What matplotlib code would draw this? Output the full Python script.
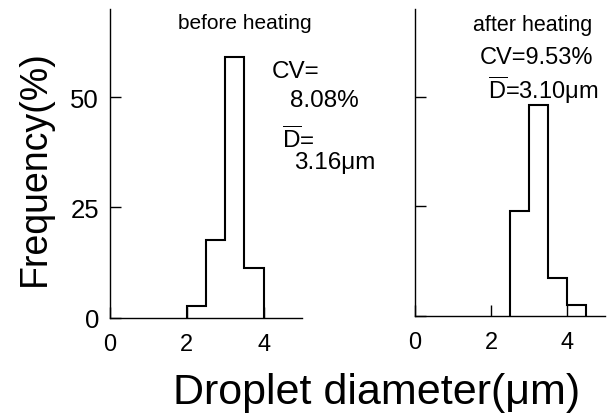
import matplotlib
matplotlib.use('Agg')
import matplotlib.pyplot as plt

plt.rcParams['font.family'] = ['Liberation Sans', 'DejaVu Sans']
plt.rcParams['mathtext.fontset'] = 'custom'
plt.rcParams['mathtext.rm'] = 'Liberation Sans'

# 直方图数据（粒径区间边界和频率%）
edges_before = [2.0, 2.5, 3.0, 3.5, 4.0]
freq_before = [2.7, 17.6, 59.0, 11.3]
edges_after = [2.5, 3.0, 3.5, 4.0, 4.5]
freq_after = [24.0, 48.0, 8.8, 2.5]

x_ticks = [0, 2, 4]
y_ticks = [0, 25, 50]

fig = plt.figure(figsize=(6.15, 4.14), dpi=100)
ax1 = fig.add_axes([0.179, 0.23, 0.312, 0.746])
ax2 = fig.add_axes([0.675, 0.234, 0.309, 0.742])

for ax, edges, freq in [(ax1, edges_before, freq_before), (ax2, edges_after, freq_after)]:
    ax.stairs(freq, edges, baseline=0, color='black', linewidth=1.5)
    ax.set_xlim(0, 5)
    ax.set_ylim(0, 70)
    ax.spines['top'].set_visible(False)
    ax.spines['right'].set_visible(False)
    ax.spines['left'].set_linewidth(1.0)
    ax.spines['bottom'].set_linewidth(1.0)
    ax.set_xticks(x_ticks)
    ax.set_yticks(y_ticks)
    ax.tick_params(direction='in', length=8, width=1.0)
    ax.tick_params(axis='x', labelsize=17, pad=11)
    ax.tick_params(axis='y', labelsize=18.5, pad=8)

ax2.tick_params(axis='y', labelleft=False)

# 标注文字
ax1.text(3.5, 67, 'before heating', ha='center', va='center', fontsize=15)
ax1.text(4.22, 56, 'CV=', ha='left', va='center', fontsize=17.5)
ax1.text(4.69, 49.3, '8.08%', ha='left', va='center', fontsize=17.5)
ax1.text(4.47, 40.5, r'$\overline{\mathrm{D}}$=', ha='left', va='center', fontsize=17.5)
ax1.text(4.8, 35.4, '3.16μm', ha='left', va='center', fontsize=17.5)

ax2.text(3.08, 66.4, 'after heating', ha='center', va='center', fontsize=15.5)
ax2.text(3.2, 59.0, 'CV=9.53%', ha='center', va='center', fontsize=17)
ax2.text(3.37, 51.8, r'$\overline{\mathrm{D}}$=3.10μm', ha='center', va='center', fontsize=17)

fig.text(35 / 615, 1 - 168 / 414, 'Frequency(%)', rotation=90, ha='center', va='center', fontsize=27)
fig.text(377 / 615, 1 - 393 / 414, 'Droplet diameter(μm)', ha='center', va='center', fontsize=31)

fig.savefig('out.png', dpi=100)
